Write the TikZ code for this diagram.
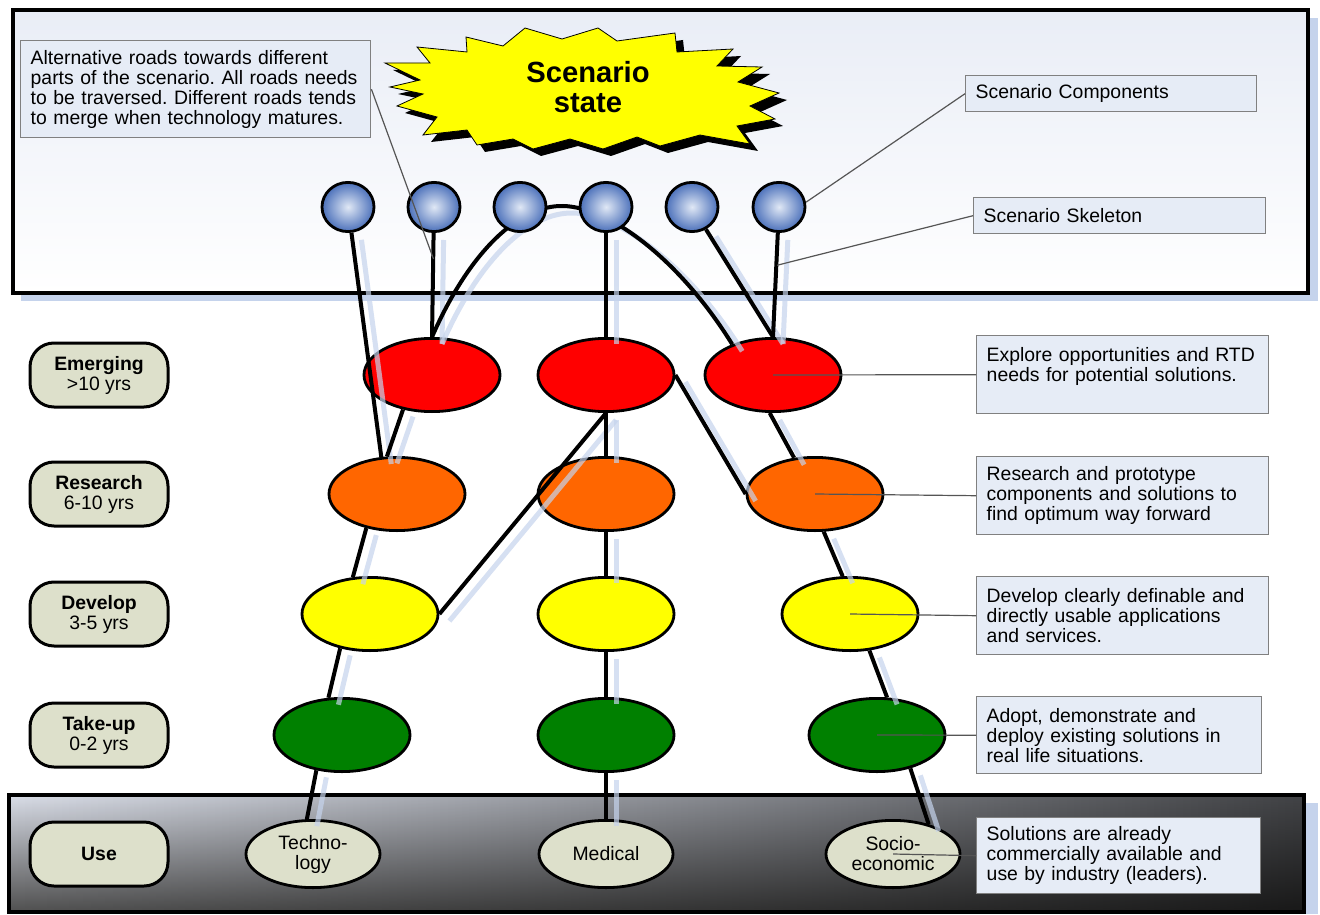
\documentclass[tikz,border=0pt]{standalone}
\usepackage{fontspec}
\setmainfont{Liberation Sans}
\usetikzlibrary{shapes.geometric,calc,fadings}

\pgfdeclarelayer{ground}
\pgfsetlayers{ground,main}

\definecolor{noteblue}{HTML}{E6ECF6}
\definecolor{stagebeige}{HTML}{DDE0CB}
\definecolor{roadshadow}{HTML}{C5D3EC}
\definecolor{emred}{HTML}{FF0000}
\definecolor{reorange}{HTML}{FF6600}
\definecolor{deyellow}{HTML}{FFFF00}
\definecolor{tugreen}{HTML}{008000}
\definecolor{balllight}{HTML}{E0E8F5}
\definecolor{balldark}{HTML}{4B70BA}
\definecolor{frametop}{HTML}{E9EDF6}
\definecolor{usetop}{HTML}{DADEE8}
\definecolor{usebottom}{HTML}{505050}
\definecolor{pointergray}{HTML}{555555}

% darkening towards the right of the use band
\tikzfading[name=usefade, left color=transparent!100, right color=transparent!30]

% outline of the scenario burst (pixel grid)
\newcommand\scenarioburst{(385,63) -- (430,63) -- (417,47) -- (467,52) -- (466,37)
  -- (503,46) -- (525,28) -- (562,39) -- (598,28) -- (617,41) -- (675,33)
  -- (677,52) -- (733,49) -- (717,66) -- (762,67) -- (738,82) -- (779,93)
  -- (750,106) -- (775,119) -- (737,126) -- (750,144) -- (700,135) -- (660,146)
  -- (637,137) -- (603,149) -- (570,139) -- (533,149) -- (513,139) -- (477,145)
  -- (467,130) -- (423,135) -- (437,117) -- (397,106) -- (423,94) -- (390,87)
  -- (420,80) -- cycle}

% all roads, drawn once as shadow and once in black
\newcommand\roadnet[1]{%
  \draw[#1] (c1) -- (re1.113);
  \draw[#1] (c2) -- (em1.north);
  \draw[#1] (em1.north) .. controls (470,250) and (520,205) .. (apex)
    .. controls (610,207) and (680,260) .. (em3.143);
  \draw[#1] (em1.230) -- (re1.105);
  \draw[#1] (re1.228) -- (de1.115);
  \draw[#1] (de1.229) -- (tu1.110);
  \draw[#1] (tu1.234) -- (us1.100);
  \draw[#1] (c4) -- (em2);
  \draw[#1] (em2) -- (re2);
  \draw[#1] (re2) -- (de2);
  \draw[#1] (de2) -- (tu2);
  \draw[#1] (tu2) -- (us2);
  \draw[#1] (em2.south) -- (de1.east);
  \draw[#1] (em2.east) -- (re3.west);
  \draw[#1] (c5) -- (em3.north);
  \draw[#1] (c6) -- (em3.north);
  \draw[#1] (em3.265) -- (re3.120);
  \draw[#1] (re3.283) -- (de3.101);
  \draw[#1] (de3.298) -- (tu3.75);
  \draw[#1] (tu3.315) -- (us3.40);
}

\begin{document}
\frenchspacing
\begin{tikzpicture}[x=0.5pt, y=-0.5pt, font=\fontsize{9.7}{10}\selectfont,
  frame/.style={draw=black, line width=2.2pt},
  stage/.style={draw=black, line width=1.5pt, fill=stagebeige, rounded corners=12pt,
    minimum width=69pt, minimum height=32pt, align=center},
  level/.style={ellipse, draw=black, line width=1.4pt, inner sep=0pt,
    minimum width=68pt, minimum height=36.6pt},
  usage/.style={level, fill=stagebeige, minimum width=67pt, minimum height=33.6pt,
    align=center},
  ball/.style={ellipse, draw=black, line width=1.4pt, inner sep=0pt,
    minimum width=26pt, minimum height=24.6pt, inner color=balllight, outer color=balldark},
  note/.style={draw=gray, line width=0.7pt, fill=noteblue, anchor=north west,
    align=left, inner xsep=5pt, inner ysep=0pt},
  road/.style={line width=2pt, draw=black},
  ghost/.style={line width=2.5pt, draw=roadshadow, opacity=0.7},
  pointer/.style={draw=pointergray, line width=0.6pt}]

\useasboundingbox (0,0) rectangle (1320,914);

\begin{pgfonlayer}{ground}
  % frames with their shadows
  \fill[roadshadow] (21,18) rectangle (1318,301);
  \draw[frame, top color=frametop, bottom color=white] (13,10) rectangle (1308,293);
  \fill[roadshadow] (17,803) rectangle (1318,914);
  \shade[top color=usetop, bottom color=usebottom] (9,795) rectangle (1304,912);
  \fill[black, path fading=usefade] (9,795) rectangle (1304,912);
  \draw[frame] (9,795) rectangle (1304,912);

  % scenario state
  \fill[black, shift={(8,7)}] \scenarioburst;
  \filldraw[fill=deyellow, draw=black, line width=0.4pt] \scenarioburst;
  \node[font=\fontsize{14.6}{15}\selectfont\bfseries, align=center] (state)
    at (588,87) {Scenario\\state};

  % stages
  \node[stage] (sEm) at (99,375) {\textbf{Emerging}\\>10 yrs};
  \node[stage] (sRe) at (99,494) {\textbf{Research}\\6-10 yrs};
  \node[stage] (sDe) at (99,614) {\textbf{Develop}\\3-5 yrs};
  \node[stage] (sTu) at (99,735) {\textbf{Take-up}\\0-2 yrs};
  \node[stage] (sUs) at (99,854) {\textbf{Use}};

  % maturity levels
  \node[level, fill=emred] (em1) at (432,375) {};
  \node[level, fill=emred] (em2) at (606,375) {};
  \node[level, fill=emred] (em3) at (773,375) {};
  \node[level, fill=reorange] (re1) at (397,494) {};
  \node[level, fill=reorange] (re2) at (606,494) {};
  \node[level, fill=reorange] (re3) at (815,494) {};
  \node[level, fill=deyellow] (de1) at (370,614) {};
  \node[level, fill=deyellow] (de2) at (606,614) {};
  \node[level, fill=deyellow] (de3) at (850,614) {};
  \node[level, fill=tugreen] (tu1) at (342,735) {};
  \node[level, fill=tugreen] (tu2) at (606,735) {};
  \node[level, fill=tugreen] (tu3) at (877,735) {};
  \node[usage] (us1) at (313,854) {Techno-\\logy};
  \node[usage] (us2) at (606,854) {Medical};
  \node[usage] (us3) at (893,854) {Socio-\\economic};
\end{pgfonlayer}

% scenario components
\foreach \i/\x in {1/348,2/434,3/520,4/606,5/692,6/779}
  \node[ball] (c\i) at (\x,207) {};
\coordinate (apex) at (563,206);

\begin{pgfonlayer}{ground}
  \begin{scope}[transform canvas={shift={(10,7)}}]
    \roadnet{ghost}
  \end{scope}
  \roadnet{road}
\end{pgfonlayer}

% notes
\node[note, text width=165pt, minimum height=48.5pt] (nAlt) at (20,40)
  {Alternative roads towards different\\parts of the scenario. All roads needs\\to be traversed. Different roads tends\\to merge when technology matures.};
\node[note, text width=135.5pt, minimum height=18pt] (nComp) at (965,75) {Scenario Components};
\node[note, text width=136pt, minimum height=18pt] (nSkel) at (973,197) {Scenario Skeleton};
\node[note, text width=136pt, minimum height=39pt] (nEm) at (976,335)
  {Explore opportunities and RTD\\needs for potential solutions.\\\mbox{}};
\node[note, text width=136pt, minimum height=39pt] (nRe) at (976,456)
  {Research and prototype\\components and solutions to\\find optimum way forward};
\node[note, text width=136pt, minimum height=39pt] (nDe) at (976,576)
  {Develop clearly definable and\\directly usable applications\\and services.};
\node[note, text width=132.5pt, minimum height=38.5pt] (nTu) at (976,696)
  {Adopt, demonstrate and\\deploy existing solutions in\\real life situations.};
\node[note, text width=132pt, minimum height=38pt] (nUs) at (976,817)
  {Solutions are already\\commercially available and\\use by industry (leaders).};

\coordinate (alt) at ($(c2.south)!.25!(em1.north)$);
\coordinate (skel) at ($(c6.south)!.31!(em3.north)$);
\draw[pointer] (nAlt.east) -- (alt);
\draw[pointer] (nComp.west) -- (c6.10);
\draw[pointer] (nSkel.west) -- (skel);
\draw[pointer] (nEm.west) -- (em3.center);
\draw[pointer] (nRe.west) -- (re3.center);
\draw[pointer] (nDe.west) -- (de3.center);
\draw[pointer] (nTu.west) -- (tu3.center);
\draw[pointer] (nUs.west) -- (us3.center);
\end{tikzpicture}
\end{document}
